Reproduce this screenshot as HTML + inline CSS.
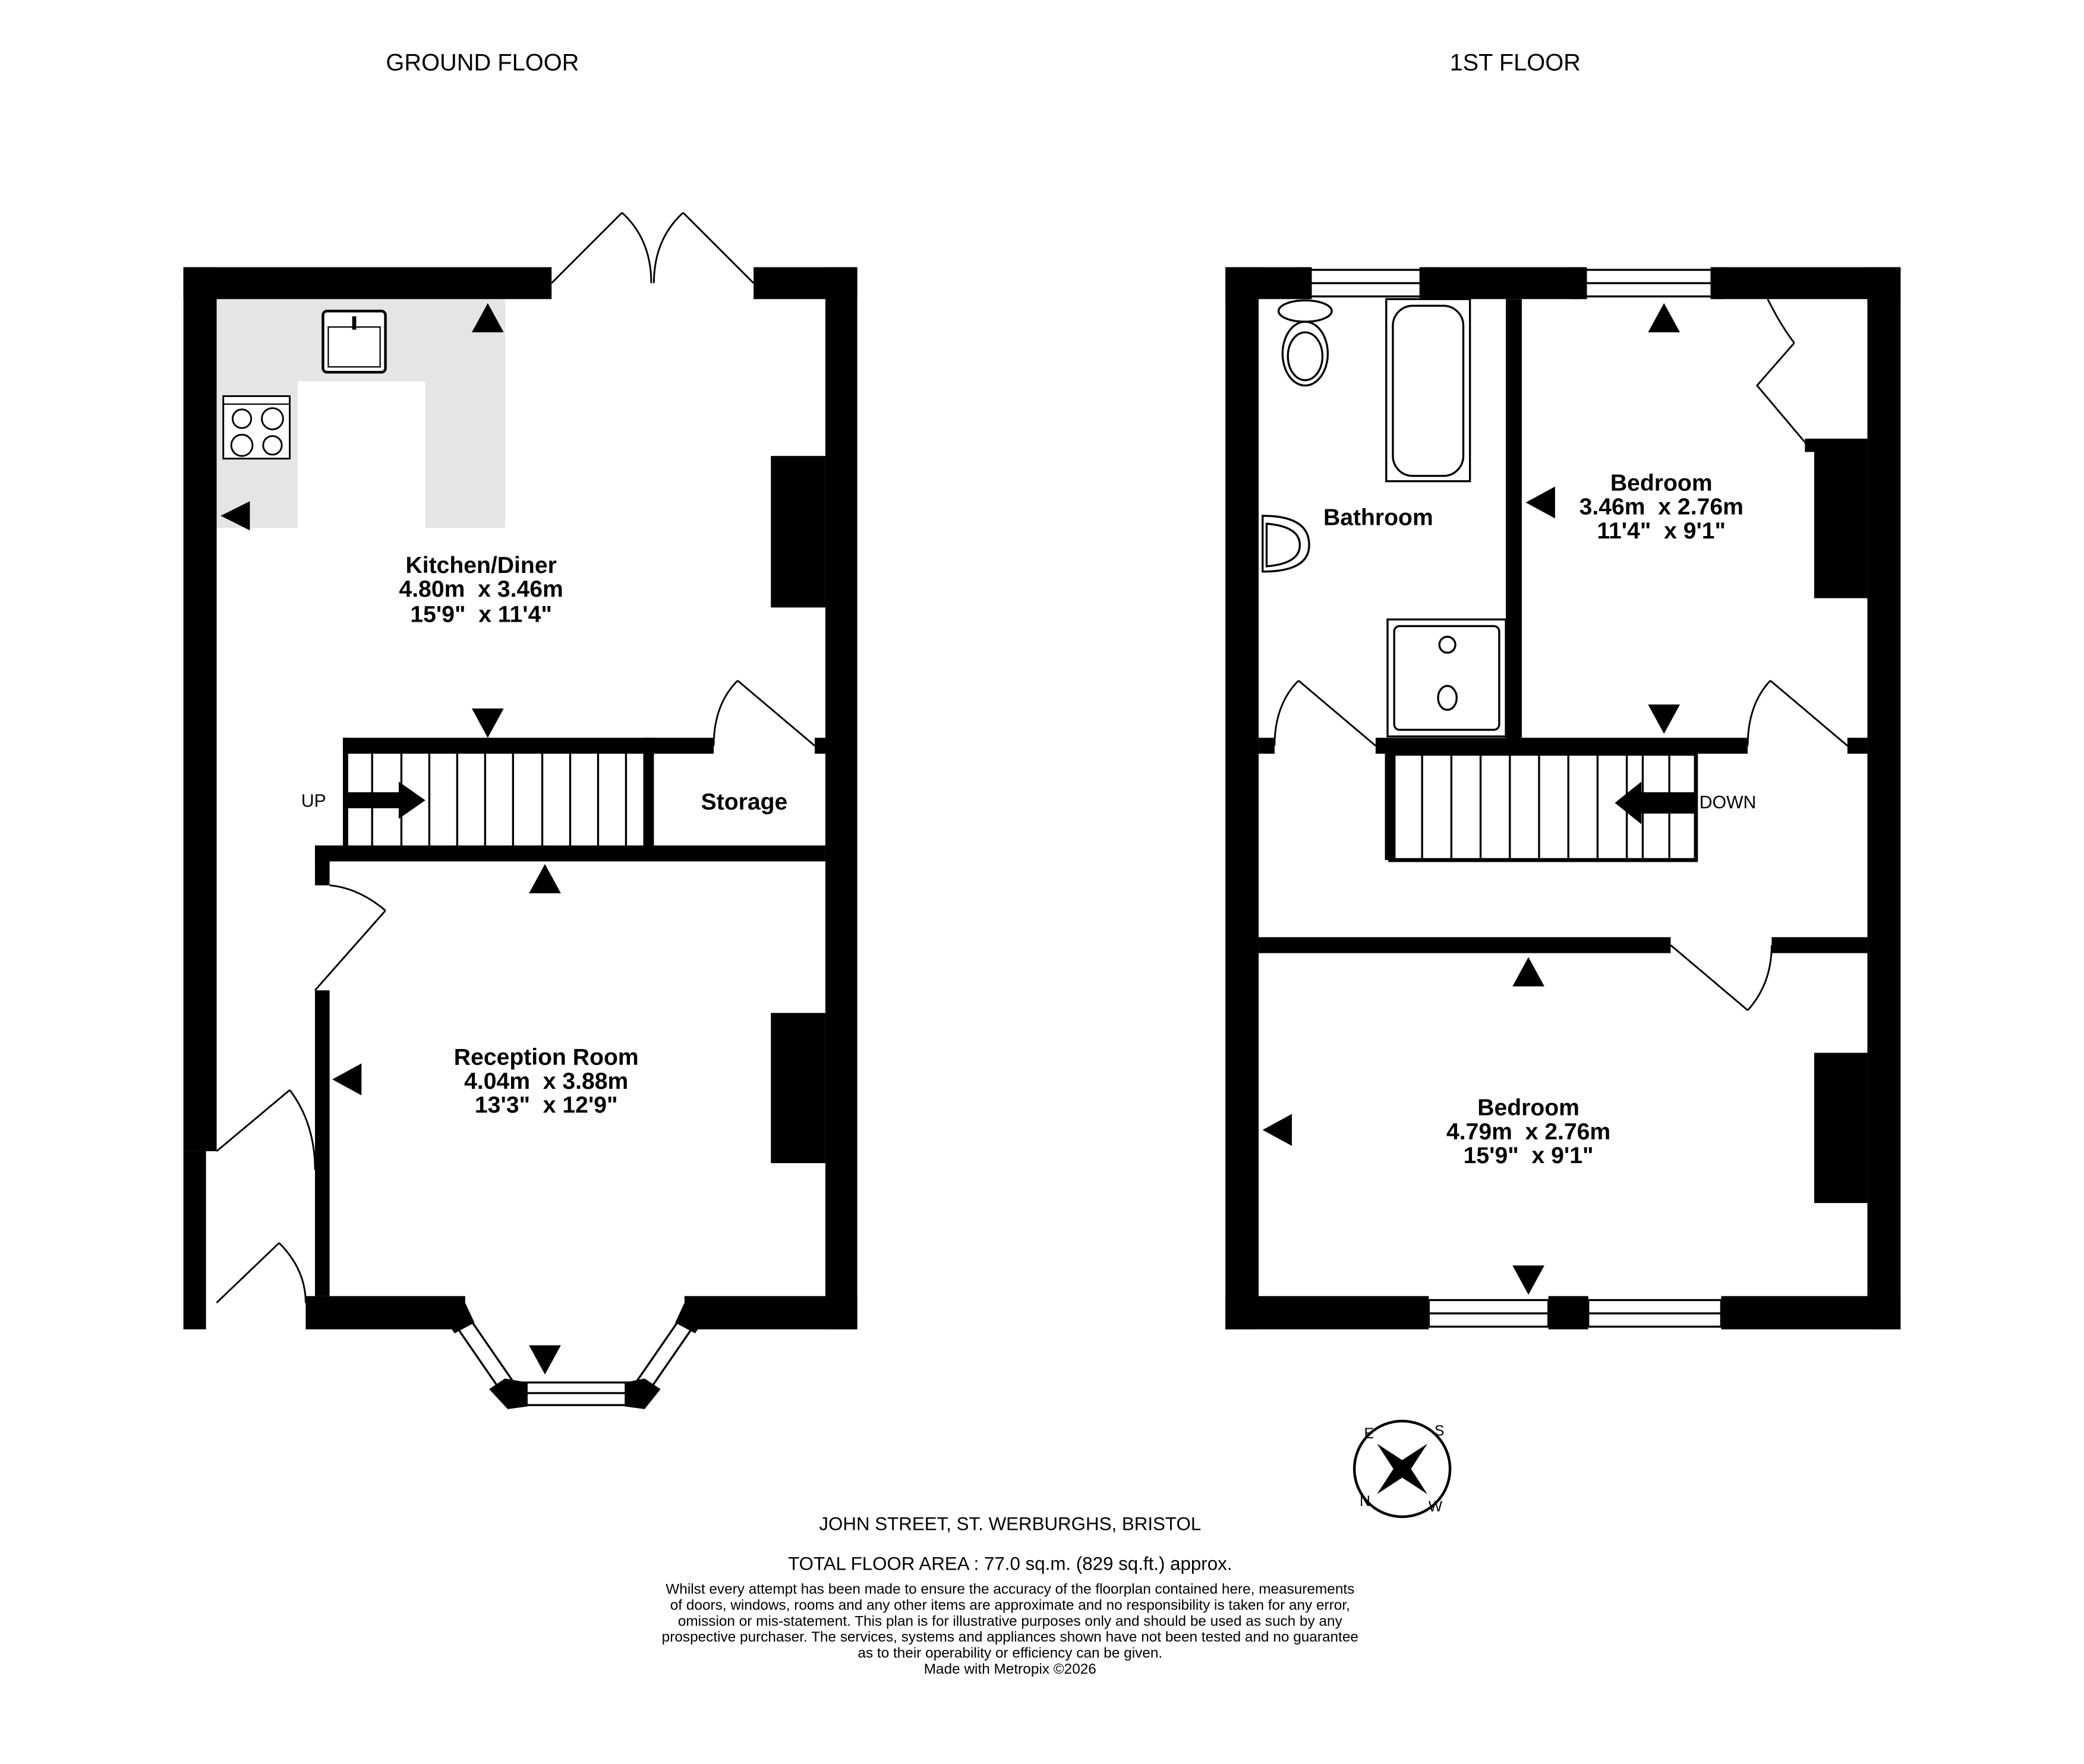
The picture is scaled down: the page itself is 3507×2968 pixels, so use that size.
<!DOCTYPE html>
<html><head><meta charset="utf-8"><style>
html,body{margin:0;padding:0;background:#fff}
svg{display:block}
text{font-family:"Liberation Sans",Arial,sans-serif;fill:#000;white-space:pre}
.r{font-weight:bold;font-size:17.5px;text-anchor:middle}
</style></head><body>
<svg width="3507" height="2968" viewBox="0 0 1568 1327" preserveAspectRatio="none" xmlns="http://www.w3.org/2000/svg">
<rect width="1570" height="1330" fill="#fff"/>
<text x="363" y="53" font-size="17.8" text-anchor="middle">GROUND FLOOR</text>
<text x="1140" y="53" font-size="17.8" text-anchor="middle">1ST FLOOR</text>

<path d="M163 225H380V397H320V287H224V397H163Z" fill="#e5e5e5"/>
<rect x="243" y="234" width="47" height="46" rx="3" fill="#fff" stroke="#000" stroke-width="2"/>
<rect x="247" y="246" width="39" height="30" fill="none" stroke="#000" stroke-width="1"/>
<rect x="265" y="238" width="3" height="10" fill="#000"/>
<g fill="#fff" stroke="#000" stroke-width="1.3"><rect x="168" y="298" width="50" height="47"/>
<circle cx="182" cy="315" r="7"/><circle cx="205" cy="315" r="8"/><circle cx="182" cy="335" r="8"/><circle cx="205" cy="335" r="7"/></g>
<line x1="168" y1="304" x2="218" y2="304" stroke="#000"/>

<g fill="#000">
<rect x="138" y="201" width="277" height="24"/>
<rect x="567" y="201" width="78" height="24"/>
<rect x="138" y="201" width="25" height="665"/>
<rect x="138" y="866" width="17" height="134"/>
<rect x="621" y="201" width="24" height="799"/>
<rect x="613" y="555" width="10" height="12"/>
<rect x="230" y="975" width="120" height="25"/>
<rect x="515" y="975" width="130" height="25"/>
<rect x="580" y="343" width="41" height="114"/>
<rect x="580" y="762" width="41" height="113"/>
<rect x="258" y="555" width="279" height="12"/>
<rect x="237" y="636" width="384" height="12"/>
<rect x="484" y="555" width="8" height="90"/>
<rect x="237" y="636" width="11" height="30"/>
<rect x="237" y="745" width="11" height="230"/>
<rect x="258" y="555" width="4" height="90"/>
<rect x="922" y="201" width="63" height="24"/>
<rect x="1070" y="201" width="120" height="24"/>
<rect x="1290" y="201" width="140" height="24"/>
<rect x="922" y="201" width="25" height="799"/>
<rect x="1405" y="201" width="25" height="799"/>
<rect x="922" y="975" width="153" height="25"/>
<rect x="1165" y="975" width="30" height="25"/>
<rect x="1295" y="975" width="135" height="25"/>
<rect x="1133" y="225" width="12" height="335"/>
<rect x="947" y="555" width="12" height="12"/>
<rect x="1035" y="555" width="280" height="12"/>
<rect x="1390" y="555" width="15" height="12"/>
<rect x="947" y="705" width="310" height="12"/>
<rect x="1333" y="705" width="72" height="12"/>
<rect x="1365" y="330" width="40" height="120"/>
<rect x="1358" y="330" width="10" height="10"/>
<rect x="1365" y="792" width="40" height="113"/>
<rect x="1042" y="567" width="8" height="80"/>
<path d="M355 250L367 228L379 250Z"/>
<path d="M188 377L166 388L188 399Z"/>
<path d="M355 533L367 555L379 533Z"/>
<path d="M398 672L410 650L422 672Z"/>
<path d="M272 800L250 812L272 824Z"/>
<path d="M398 1012L410 1034L422 1012Z"/>
<path d="M1240 250L1252 228L1264 250Z"/>
<path d="M1170 366L1148 378L1170 390Z"/>
<path d="M1240 530L1252 552L1264 530Z"/>
<path d="M1138 742L1150 720L1162 742Z"/>
<path d="M972 838L950 850L972 862Z"/>
<path d="M1138 952L1150 974L1162 952Z"/>
<path d="M262 596H300V588L320 602L300 616V608H262Z"/>
<path d="M1275 596H1235V588L1215 604L1235 620V612H1275Z"/>
</g>
<g stroke="#000" stroke-width="1.5">
<line x1="280" y1="567" x2="280" y2="636"/><line x1="302" y1="567" x2="302" y2="636"/><line x1="323" y1="567" x2="323" y2="636"/><line x1="344" y1="567" x2="344" y2="636"/><line x1="365" y1="567" x2="365" y2="636"/><line x1="386" y1="567" x2="386" y2="636"/><line x1="408" y1="567" x2="408" y2="636"/><line x1="429" y1="567" x2="429" y2="636"/><line x1="450" y1="567" x2="450" y2="636"/><line x1="471" y1="567" x2="471" y2="636"/>
</g>
<rect x="1046" y="567" width="230" height="80" fill="none" stroke="#000" stroke-width="3"/>
<g stroke="#000" stroke-width="1.5">
<line x1="1070" y1="567" x2="1070" y2="647"/><line x1="1092" y1="567" x2="1092" y2="647"/><line x1="1114" y1="567" x2="1114" y2="647"/><line x1="1136" y1="567" x2="1136" y2="647"/><line x1="1158" y1="567" x2="1158" y2="647"/><line x1="1180" y1="567" x2="1180" y2="647"/><line x1="1202" y1="567" x2="1202" y2="647"/><line x1="1224" y1="567" x2="1224" y2="647"/><line x1="1236" y1="567" x2="1236" y2="647"/><line x1="1256" y1="567" x2="1256" y2="647"/>
</g>
<g fill="none" stroke="#000" stroke-width="1.3">
<path d="M415 213L468 160M468 160Q490 180 490 213"/>
<path d="M567 213L514 160M514 160Q492 180 492 213"/>
<path d="M613 561L555 512M555 512Q537 530 537 561"/>
<path d="M237 745L290 685M290 685Q270 668 248 666"/>
<path d="M163 866L218 820M218 820Q237 845 237 880"/>
<path d="M163 980L210 935M210 935Q230 955 230 980"/>
<path d="M1035 561L977 512M977 512Q959 530 959 561"/>
<path d="M1390 561L1332 512M1332 512Q1315 530 1315 561"/>
<path d="M1257 711L1315 760M1315 760Q1333 740 1333 711"/>
<path d="M1360 335L1322 290L1350 258"/>
<path d="M1330 225Q1340 245 1350 258"/>
</g>
<g fill="#fff" stroke="#000" stroke-width="1.5">
<rect x="985" y="203" width="85" height="20"/><line x1="985" y1="213" x2="1070" y2="213"/>
<rect x="1190" y="203" width="100" height="20"/><line x1="1190" y1="213" x2="1290" y2="213"/>
<rect x="1075" y="978" width="90" height="20"/><line x1="1075" y1="988" x2="1165" y2="988"/>
<rect x="1195" y="978" width="100" height="20"/><line x1="1195" y1="988" x2="1295" y2="988"/>
<rect x="385" y="1040" width="100" height="17"/><line x1="385" y1="1048" x2="485" y2="1048"/>
<path d="M340 993L350 987L390 1045L380 1051Z"/>
<path d="M525 993L515 987L475 1045L485 1051Z"/>
</g>
<g fill="#000"><path d="M333 990L350 980L357 995L342 1003Z"/><path d="M532 990L515 980L508 995L523 1003Z"/>
<path d="M368 1045L380 1037L397 1040L397 1058L382 1060Z"/><path d="M497 1045L485 1037L470 1040L470 1058L485 1060Z"/>
<rect x="1068" y="201" width="14" height="24"/><rect x="975" y="201" width="12" height="24"/><rect x="1182" y="201" width="12" height="24"/><rect x="1287" y="201" width="10" height="24"/></g>
<g fill="#fff" stroke="#000" stroke-width="1.5">
<ellipse cx="982" cy="234" rx="20" ry="8"/><ellipse cx="982" cy="266" rx="17" ry="24"/><ellipse cx="982" cy="268" rx="13" ry="18"/>
<rect x="1043" y="225" width="63" height="137"/><rect x="1048" y="230" width="53" height="128" rx="15"/>
<path d="M950 388Q985 388 985 410Q985 430 950 430Z"/><path d="M953 394Q978 396 978 410Q978 424 953 426Z"/>
<rect x="1044" y="466" width="89" height="88"/><rect x="1049" y="471" width="79" height="78" rx="4"/>
<circle cx="1089" cy="485" r="6"/><ellipse cx="1089" cy="525" rx="7" ry="9"/>
</g>
<text class="r" x="362" y="431">Kitchen/Diner</text>
<text class="r" x="362" y="449">4.80m  x 3.46m</text>
<text class="r" x="362" y="468">15'9"  x 11'4"</text>
<text class="r" x="560" y="609">Storage</text>
<text x="236" y="607" font-size="13.5" text-anchor="middle">UP</text>
<text class="r" x="411" y="801">Reception Room</text>
<text class="r" x="411" y="819">4.04m  x 3.88m</text>
<text class="r" x="411" y="837">13'3"  x 12'9"</text>
<text class="r" x="1037" y="395">Bathroom</text>
<text class="r" x="1250" y="369">Bedroom</text>
<text class="r" x="1250" y="387">3.46m  x 2.76m</text>
<text class="r" x="1250" y="405">11'4"  x 9'1"</text>
<text x="1300" y="608" font-size="13.5" text-anchor="middle">DOWN</text>
<text class="r" x="1150" y="839">Bedroom</text>
<text class="r" x="1150" y="857">4.79m  x 2.76m</text>
<text class="r" x="1150" y="875">15'9"  x 9'1"</text>
<circle cx="1055" cy="1105" r="36" fill="none" stroke="#000" stroke-width="2"/>
<path d="M1036 1086L1059 1101L1074 1124L1051 1109Z M1074 1086L1059 1109L1036 1124L1051 1101Z" fill="#000"/>
<text x="1030" y="1082" font-size="11" text-anchor="middle">E</text>
<text x="1083" y="1080" font-size="11" text-anchor="middle">S</text>
<text x="1027" y="1133" font-size="11" text-anchor="middle">N</text>
<text x="1080" y="1137" font-size="11" text-anchor="middle">W</text>
<text x="760" y="1151" font-size="14" text-anchor="middle">JOHN STREET, ST. WERBURGHS, BRISTOL</text>
<text x="760" y="1181" font-size="14" text-anchor="middle">TOTAL FLOOR AREA : 77.0 sq.m. (829 sq.ft.) approx.</text>
<g font-size="10.9" text-anchor="middle">
<text x="760" y="1199">Whilst every attempt has been made to ensure the accuracy of the floorplan contained here, measurements</text>
<text x="760" y="1211">of doors, windows, rooms and any other items are approximate and no responsibility is taken for any error,</text>
<text x="760" y="1223">omission or mis-statement. This plan is for illustrative purposes only and should be used as such by any</text>
<text x="760" y="1235">prospective purchaser. The services, systems and appliances shown have not been tested and no guarantee</text>
<text x="760" y="1247">as to their operability or efficiency can be given.</text>
<text x="760" y="1259">Made with Metropix ©2026</text>
</g>
</svg>
</body></html>
